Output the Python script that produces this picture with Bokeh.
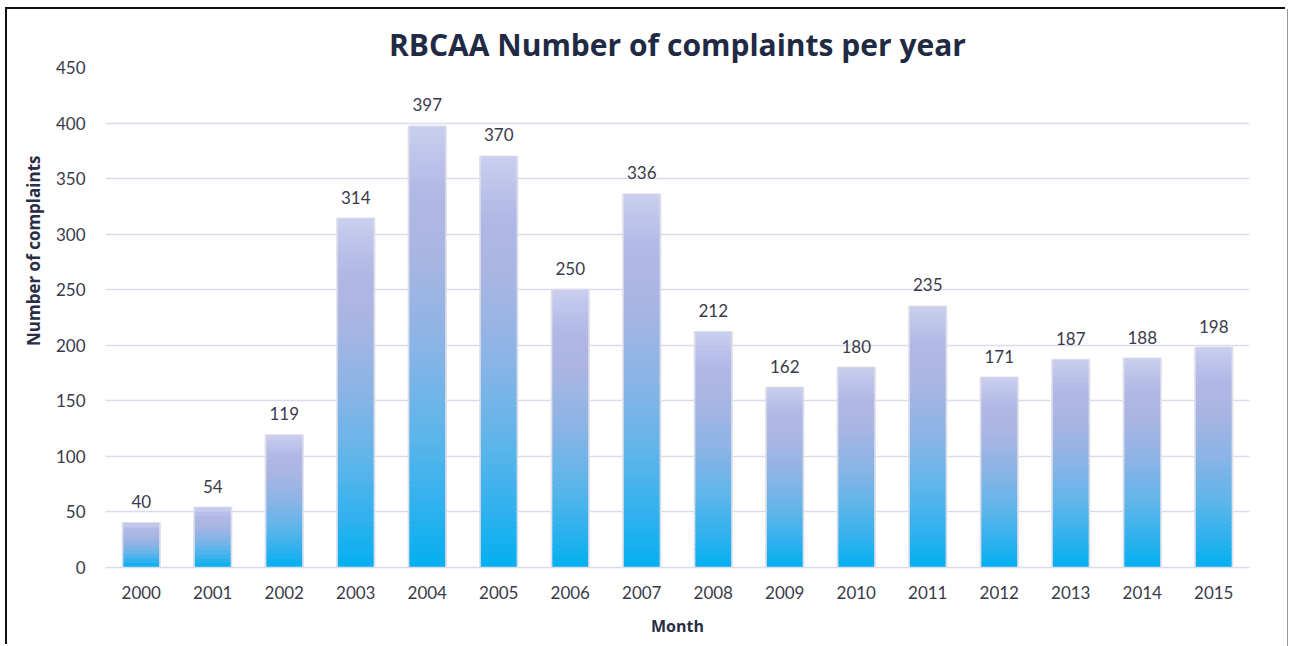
import math
from bokeh.plotting import figure
from bokeh.models import ColumnDataSource, FactorRange, Range1d, Title, FixedTicker
from bokeh.embed import file_html
from bokeh.resources import INLINE
from bokeh.core.properties import value

years = ["2000", "2001", "2002", "2003", "2004", "2005", "2006", "2007",
         "2008", "2009", "2010", "2011", "2012", "2013", "2014", "2015"]
complaints = [40, 54, 119, 314, 397, 370, 250, 336, 212, 162, 180, 235, 171, 187, 188, 198]
y_ticks = [0, 50, 100, 150, 200, 250, 300, 350, 400, 450]

title_text = "RBCAA Number of complaints per year"
x_title = "Month"
y_title = "Number of complaints"

FONT = "Lato"

# gradient stops (position from top of bar, colour)
stops = [(0.0, (0xca, 0xcf, 0xee)), (0.15, (0xb0, 0xb8, 0xe5)), (0.28, (0xab, 0xb5, 0xe3)),
         (0.5, (0x8a, 0xb4, 0xe6)), (0.7, (0x5d, 0xb5, 0xea)), (0.86, (0x30, 0xb1, 0xee)),
         (1.0, (0x02, 0xb0, 0xf0))]


def grad(t):
    for (t0, c0), (t1, c1) in zip(stops[:-1], stops[1:]):
        if t0 <= t <= t1:
            f = (t - t0) / (t1 - t0)
            return "#%02x%02x%02x" % tuple(int(round(a + (b - a) * f)) for a, b in zip(c0, c1))
    return "#%02x%02x%02x" % stops[-1][1]


STEP = 4.0  # slice height in data units
sx, sb, st, sc = [], [], [], []
for yr, v in zip(years, complaints):
    n = max(6, int(math.ceil(v / STEP)))
    h = v / n
    for i in range(n):
        sx.append(yr)
        sb.append(h * i)
        st.append(min(v, h * (i + 1) + 1.0))
        sc.append(grad(1 - (i + 0.5) / n))

slices = ColumnDataSource(dict(x=sx, bottom=sb, top=st, color=sc))
bars = ColumnDataSource(dict(x=years, top=complaints, label=[str(v) for v in complaints]))

W, H = 1280, 637
ML, MT, MR, MB = 98, 58, 38, 79
p = figure(width=W, height=H, x_range=FactorRange(factors=years, range_padding=0),
           y_range=Range1d(0, 450), output_backend="svg", toolbar_location=None,
           min_border_left=ML, min_border_right=MR, min_border_top=MT, min_border_bottom=MB)
p.styles = {"margin-left": "7px", "margin-top": "9px",
            "box-shadow": "-2px -2px 0 0 #111, 1px 0 0 0 #999"}

p.title.text = title_text
p.title.align = "center"
p.title.text_font = "Open Sans"
p.title.text_font_size = "30px"
p.title.text_font_style = "bold"
p.title.text_color = "#1f2a44"
p.title.offset = 0
p.title.standoff = 6

p.outline_line_color = None
p.background_fill_color = "white"
p.border_fill_color = "white"

# soft shadow-ish outline
p.vbar(x="x", top="top", bottom=0, width=0.52, source=bars, fill_color=None,
       line_color="#dddee8", line_width=2)
p.vbar(x="x", bottom="bottom", top="top", width=0.5, source=slices,
       fill_color="color", line_color=None)

p.text(x="x", y="top", text="label", source=bars, text_align="center",
       text_baseline="bottom", y_offset=-15, text_font=value(FONT),
       text_font_size="17px", text_color="#3a3a4a")

p.xgrid.grid_line_color = None
p.ygrid.grid_line_color = "#d9dcef"
p.ygrid.grid_line_width = 1.5
p.ygrid.ticker = FixedTicker(ticks=y_ticks)

p.yaxis.ticker = FixedTicker(ticks=y_ticks)
p.yaxis.axis_line_color = None
p.yaxis.major_tick_line_color = None
p.yaxis.minor_tick_line_color = None
p.yaxis.major_label_standoff = 14
p.yaxis.major_label_text_font = FONT
p.yaxis.major_label_text_font_size = "17px"
p.yaxis.major_label_text_color = "#3a3a4a"

p.xaxis.axis_line_color = "#d9dcef"
p.xaxis.axis_line_width = 1.5
p.xaxis.major_tick_line_color = None
p.xaxis.minor_tick_line_color = None
p.xaxis.major_label_standoff = 12
p.xaxis.major_label_text_font = FONT
p.xaxis.major_label_text_font_size = "17px"
p.xaxis.major_label_text_color = "#3a3a4a"
p.xaxis.axis_label = x_title
p.xaxis.axis_label_text_font = "Open Sans"
p.xaxis.axis_label_text_font_size = "16px"
p.xaxis.axis_label_text_font_style = "bold"
p.xaxis.axis_label_text_color = "#2a2d45"
p.xaxis.axis_label_standoff = 13

ylab = Title(text=y_title, align="right", offset=88, standoff=15,
             text_font="Open Sans", text_font_size="17px", text_font_style="bold",
             text_color="#2a2d45")
p.add_layout(ylab, "left")

open("out.html", "w").write(file_html(p, INLINE))
